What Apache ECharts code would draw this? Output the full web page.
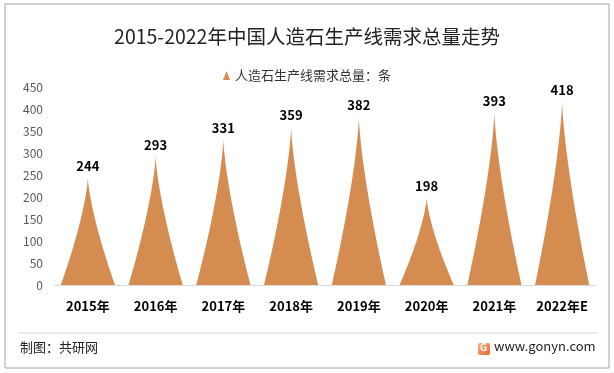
<!DOCTYPE html>
<html><head><meta charset="utf-8">
<script src="https://cdn.jsdelivr.net/npm/echarts@6/dist/echarts.min.js"></script>
<style>html,body{margin:0;padding:0;background:#fff}#c{width:614px;height:373px}</style>
</head><body><div id="c"></div>
<script>
const categories = ['2015年','2016年','2017年','2018年','2019年','2020年','2021年','2022年E'];
const values = [244, 293, 331, 359, 382, 198, 393, 418];
const seriesName = '人造石生产线需求总量：条';
const titleText = '2015-2022年中国人造石生产线需求总量走势';
const yTicks = {min: 0, max: 450, interval: 50};

const FONT = '"Noto Sans CJK SC", "Noto Sans", sans-serif';
// concave spike symbol shape (unit box 100x100)
function spikePath() {
  const left = [], right = [];
  for (let i = 0; i <= 40; i++) {
    const h = i / 40;
    const w = Math.pow(1 - h, 1.4);
    left.push([50 * (1 - w), 100 * (1 - h)]);
    right.push([50 + 50 * w, 100 * (1 - h)]);
  }
  right.reverse();
  const pts = left.concat(right.slice(1));
  return 'path://M' + pts.map(p => p[0].toFixed(2) + ',' + p[1].toFixed(2)).join(' L') + ' Z';
}
const chart = echarts.init(document.getElementById('c'), null, {renderer: 'canvas'});
chart.setOption({
  backgroundColor: '#fff',
  animation: false,
  textStyle: {fontFamily: FONT},
  title: {
    text: titleText, left: 'center', top: 22,
    textStyle: {fontSize: 19.5, fontWeight: 'normal', color: '#222', fontFamily: FONT}
  },
  legend: {
    data: [seriesName], top: 64, left: 'center',
    icon: 'triangle', itemWidth: 7, itemHeight: 9, itemGap: 4,
    textStyle: {fontSize: 13, color: '#333', fontFamily: FONT}
  },
  grid: {left: 54, right: 18, top: 87, bottom: 88, containLabel: false},
  xAxis: {
    type: 'category', data: categories,
    axisLine: {lineStyle: {color: '#d9d9d9', width: 1}},
    axisTick: {show: false},
    axisLabel: {color: '#000', fontWeight: 'bold', fontSize: 13, margin: 15, fontFamily: FONT}
  },
  yAxis: {
    type: 'value', min: yTicks.min, max: yTicks.max, interval: yTicks.interval,
    axisLine: {show: false}, axisTick: {show: false}, splitLine: {show: false},
    axisLabel: {color: '#595959', fontSize: 12, margin: 11, fontFamily: FONT}
  },
  series: [{
    name: seriesName, type: 'pictorialBar', data: values,
    symbol: spikePath(), symbolSize: ['100%', '100%'], barCategoryGap: '20%',
    itemStyle: {color: '#D58C51'},
    label: {show: true, position: 'top', distance: 5, fontWeight: 'bold', fontSize: 13, color: '#000', fontFamily: FONT}
  }],
  graphic: [
    {type: 'rect', shape: {x: 5, y: 4, width: 604, height: 364}, style: {fill: 'none', stroke: '#a6a6a6', lineWidth: 1}, silent: true},
    {type: 'line', shape: {x1: 18, y1: 333, x2: 598, y2: 333}, style: {stroke: '#d9d9d9', lineWidth: 1}},
    {type: 'text', left: 20, top: 341, style: {text: '制图：共研网', fontSize: 13, fill: '#222', fontFamily: FONT}},
    {type: 'rect', shape: {x: 478, y: 343, width: 12, height: 12, r: 2}, style: {fill: new echarts.graphic.LinearGradient(0,0,1,1,[{offset:0,color:'#f7b27a'},{offset:1,color:'#e8663a'}])}},
    {type: 'text', left: 480, top: 342, style: {text: 'G', fontSize: 10, fontWeight: 'bold', fill: '#fff', fontFamily: FONT}},
    {type: 'text', left: 494, top: 340, style: {text: 'www.gonyn.com', fontSize: 13, fill: '#222', fontFamily: FONT}}
  ]
});
</script></body></html>
